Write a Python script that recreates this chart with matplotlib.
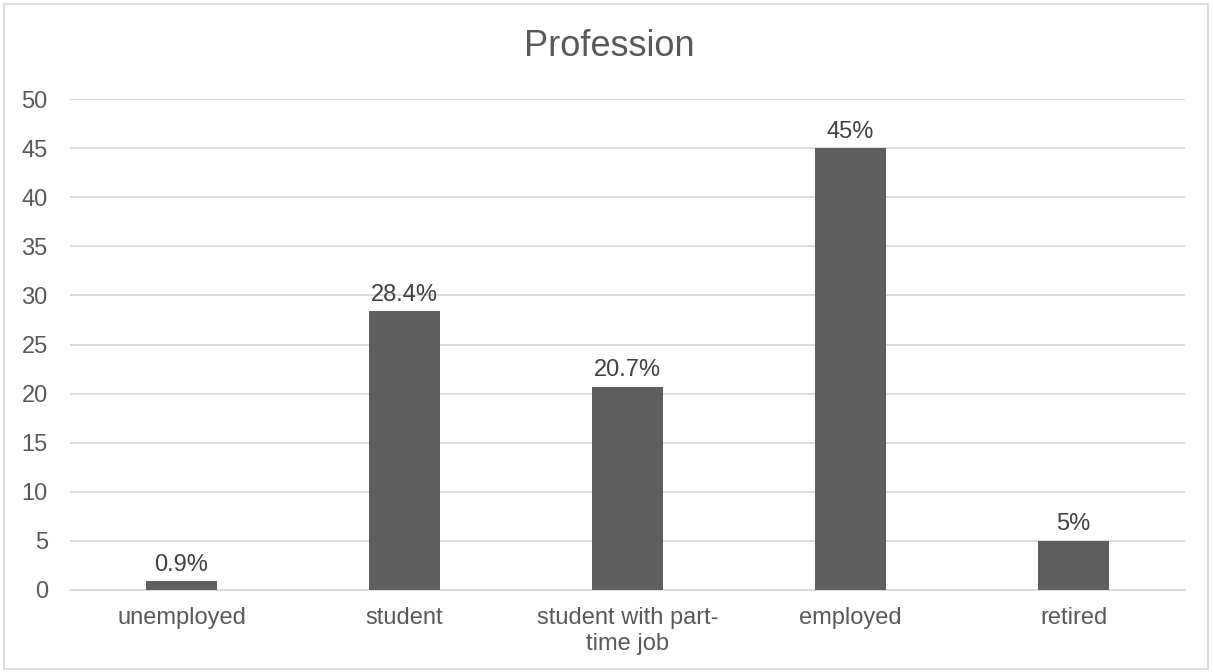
import matplotlib.pyplot as plt
from matplotlib.patches import Rectangle

plt.rcParams['font.family'] = ['Liberation Sans', 'DejaVu Sans']

# survey results, percent of respondents
categories = ['unemployed', 'student', 'student with part-\ntime job', 'employed', 'retired']
shares = [0.9, 28.4, 20.7, 45, 5]
share_labels = ['0.9%', '28.4%', '20.7%', '45%', '5%']
y_ticks = [0, 5, 10, 15, 20, 25, 30, 35, 40, 45, 50]

text_color = '#595959'
grid_color = '#d9d9d9'
bar_color = '#5f5f5f'

fig = plt.figure(figsize=(12.13, 6.72), dpi=100)
ax = fig.add_axes([70 / 1213, 82 / 672, 1115 / 1213, 491 / 672])

x = list(range(len(categories)))
bars = ax.bar(x, shares, width=0.314, color=bar_color, zorder=3)
for b, lab in zip(bars, share_labels):
    ax.annotate(lab, (b.get_x() + b.get_width() / 2, b.get_height()),
                xytext=(0, 4), textcoords='offset points',
                ha='center', va='bottom', fontsize=17, color='#404040')

ax.set_xlim(-0.5, len(categories) - 0.5)
ax.set_ylim(0, 50)
ax.set_yticks(y_ticks)
ax.set_xticks(x)
ax.set_xticklabels(categories, fontsize=17, color=text_color, linespacing=1.25)
ax.tick_params(axis='y', labelsize=17, labelcolor=text_color, length=0, pad=16)
ax.tick_params(axis='x', length=0, pad=12)
ax.grid(axis='y', color=grid_color, linewidth=1.3, zorder=0)
for s in ['top', 'right', 'left']:
    ax.spines[s].set_visible(False)
ax.spines['bottom'].set_color(grid_color)
ax.spines['bottom'].set_linewidth(1.3)

fig.text(609 / 1213, 1 - 47 / 672, 'Profession', ha='center', va='center',
         fontsize=26, color=text_color)

# thin outer frame of the chart
fig.patches.append(Rectangle((4 / 1213, 3 / 672), 1204 / 1213, 665 / 672,
                             transform=fig.transFigure, fill=False,
                             edgecolor=grid_color, linewidth=1.3))

fig.savefig('out.png', dpi=100)
